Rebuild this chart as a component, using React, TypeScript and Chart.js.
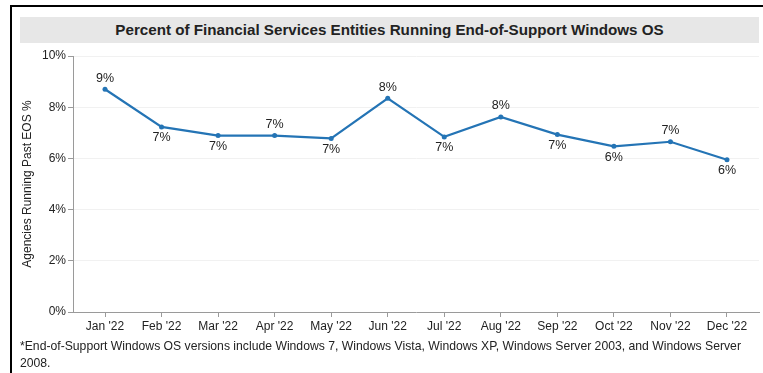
import React, { useEffect, useRef } from "react";
import { Chart, registerables } from "chart.js";

Chart.register(...registerables);

const TITLE = "Percent of Financial Services Entities Running End-of-Support Windows OS";
const FOOTNOTE =
  "*End-of-Support Windows OS versions include Windows 7, Windows Vista, Windows XP, Windows Server 2003, and Windows Server 2008.";
const Y_TITLE = "Agencies Running Past EOS %";
const months = ["Jan '22", "Feb '22", "Mar '22", "Apr '22", "May '22", "Jun '22", "Jul '22", "Aug '22", "Sep '22", "Oct '22", "Nov '22", "Dec '22"];
const values = [8.7, 7.23, 6.89, 6.89, 6.78, 8.35, 6.84, 7.62, 6.93, 6.47, 6.65, 5.95];
const labelAbove = [true, false, false, true, false, true, false, true, false, false, true, false];
const yTicks = [0, 2, 4, 6, 8, 10];

const FONT = "'Liberation Sans', Arial, Helvetica, sans-serif";
const LINE_COLOR = "#2474b5";
const X_PAD = 0.566;

const labelPlugin = {
  id: "pointLabels",
  afterDatasetsDraw(chart: any) {
    const ctx = chart.ctx;
    const meta = chart.getDatasetMeta(0);
    ctx.save();
    ctx.font = `12.5px ${FONT}`;
    ctx.fillStyle = "#222";
    ctx.textAlign = "center";
    ctx.textBaseline = "middle";
    meta.data.forEach((pt: any, i: number) => {
      const txt = Math.round(values[i]) + "%";
      const y = labelAbove[i] ? pt.y - 11 : pt.y + 11;
      ctx.fillText(txt, pt.x, y);
    });
    ctx.restore();
  },
};

export default function App() {
  const ref = useRef<HTMLCanvasElement>(null);
  useEffect(() => {
    if (!ref.current) return;
    const chart = new Chart(ref.current, {
      type: "line",
      data: {
        datasets: [
          {
            data: values.map((v, i) => ({ x: i, y: v })),
            borderColor: LINE_COLOR,
            backgroundColor: LINE_COLOR,
            borderWidth: 2.2,
            pointRadius: 2.5,
            pointBackgroundColor: LINE_COLOR,
            pointBorderWidth: 0,
            tension: 0,
          },
        ],
      },
      options: {
        animation: false,
        responsive: false,
        maintainAspectRatio: false,
        layout: { padding: { left: 0, right: 4, top: 12, bottom: 0 } },
        plugins: { legend: { display: false }, tooltip: { enabled: false }, title: { display: false } },
        scales: {
          x: {
            type: "linear",
            min: -X_PAD,
            max: months.length - 1 + X_PAD,
            afterBuildTicks: (s: any) => {
              s.ticks = months.map((_, i) => ({ value: i }));
            },
            grid: { drawOnChartArea: false, drawTicks: true, tickLength: 5, tickColor: "#9a9a9a" },
            border: { color: "#9a9a9a", width: 1 },
            ticks: {
              color: "#222",
              font: { family: FONT, size: 12 },
              padding: 2,
              maxRotation: 0,
              autoSkip: false,
              callback: (v: any) => months[Math.round(Number(v))] ?? "",
            },
            afterFit: (s: any) => {
              s.height = 28;
            },
          },
          y: {
            min: 0,
            max: 10,
            afterBuildTicks: (s: any) => {
              s.ticks = yTicks.map((v) => ({ value: v }));
            },
            grid: { color: "#f1f1f1", drawTicks: true, tickLength: 5, tickColor: "#9a9a9a" },
            border: { color: "#9a9a9a", width: 1 },
            ticks: {
              color: "#222",
              font: { family: FONT, size: 12 },
              padding: 2,
              callback: (v: any) => v + "%",
            },
            title: {
              display: true,
              text: Y_TITLE,
              color: "#222",
              font: { family: FONT, size: 12 },
              padding: { top: 20, bottom: 0 },
            },
            afterFit: (s: any) => {
              s.width = 73;
            },
          },
        },
      },
      plugins: [labelPlugin],
    });
    return () => chart.destroy();
  }, []);

  return (
    <div style={{ position: "absolute", left: 0, top: 0, width: 763, height: 373, background: "#fff", overflow: "hidden", fontFamily: FONT }}>
      <div style={{ position: "absolute", left: 10, top: 5, width: 760, height: 380, borderLeft: "2px solid #000", borderTop: "2px solid #000" }} />
      <div
        style={{
          position: "absolute",
          left: 20,
          top: 17,
          width: 739,
          height: 26,
          background: "#e7e7e7",
          color: "#222",
          fontWeight: "bold",
          fontSize: 15.2,
          lineHeight: "26px",
          textAlign: "center",
        }}
      >
        {TITLE}
      </div>
      <canvas ref={ref} width={763} height={296} style={{ position: "absolute", left: 0, top: 44, width: 763, height: 296 }} />
      <div style={{ position: "absolute", left: 20, top: 338, width: 735, fontSize: 12.2, lineHeight: "17px", color: "#222" }}>{FOOTNOTE}</div>
    </div>
  );
}
